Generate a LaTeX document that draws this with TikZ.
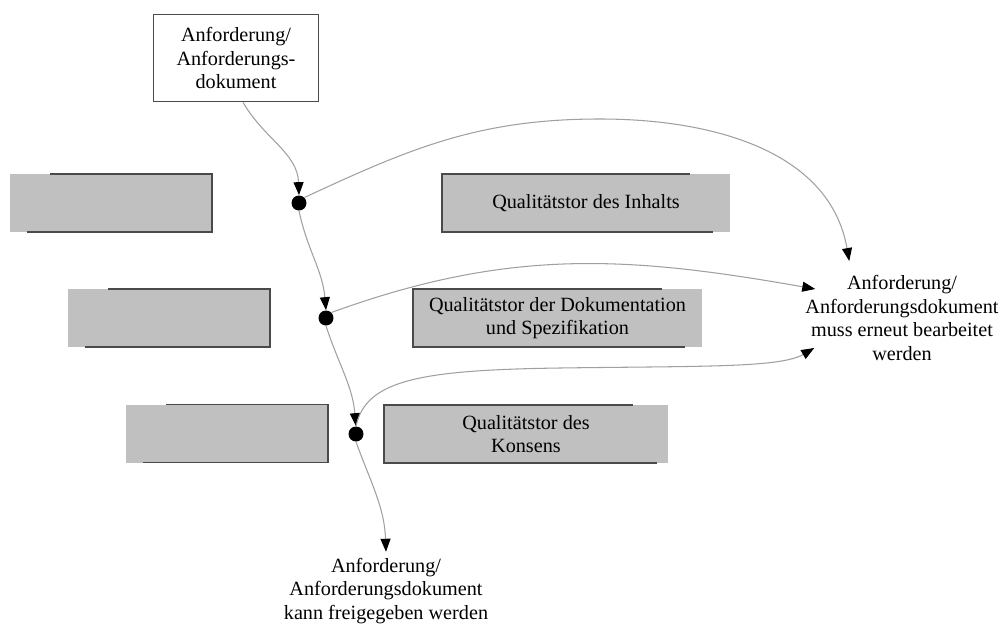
\documentclass[tikz,border=0pt]{standalone}
\usepackage{fontspec}
\setmainfont{Liberation Serif}
\usetikzlibrary{arrows.meta}
\definecolor{gatefill}{HTML}{C0C0C0}
\definecolor{gateline}{HTML}{4A4A4A}
\definecolor{flowline}{HTML}{A0A0A0}

\begin{document}
\begin{tikzpicture}[x=0.02cm, y=-0.02cm,
  every node/.style={font=\fontsize{11.5}{13.5}\selectfont, align=center},
  gate/.style={fill=gatefill, minimum height=1.16cm, inner sep=0pt, outer sep=0pt},
  rim/.style={draw=gateline, line width=1.1pt},
  dot/.style={circle, fill=black, minimum size=0.3cm, inner sep=0pt},
  flow/.style={draw=flowline, line width=0.6pt, -{Triangle[black, length=0.26cm, width=0.2cm]}}]
\useasboundingbox (0,0) rectangle (1002,626);

% Anforderung oben
\node[draw=gateline, line width=0.9pt, minimum width=3.3cm, minimum height=1.74cm, inner sep=0pt] (doc) at (236,58) {Anforderung/\\Anforderungs-\\dokument};

% Qualitaetstore
\node[gate, minimum width=4.04cm] (l1) at (111,203) {};
\node[gate, minimum width=5.76cm] (r1) at (586,203) {Qualitätstor des Inhalts};
\node[gate, minimum width=4.04cm] (l2) at (169,318) {};
\node[gate, minimum width=5.78cm] (r2) at (557.5,318) {Qualitätstor der Dokumentation\\und Spezifikation};
\node[gate, minimum width=4.04cm] (l3) at (227,433.5) {};
\node[gate, minimum width=5.68cm] (r3) at (526,434) {Qualitätstor des\\Konsens};

\draw[rim] ([xshift=0.8cm]l1.north west) -- (l1.north east) -- (l1.south east) -- ([xshift=0.34cm]l1.south west);
\draw[rim] ([xshift=0.8cm]l2.north west) -- (l2.north east) -- (l2.south east) -- ([xshift=0.34cm]l2.south west);
\draw[rim] ([xshift=0.8cm]l3.north west) -- (l3.north east) -- (l3.south east) -- ([xshift=0.34cm]l3.south west);
\draw[rim] ([xshift=-0.8cm]r1.north east) -- (r1.north west) -- (r1.south west) -- ([xshift=-0.34cm]r1.south east);
\draw[rim] ([xshift=-0.8cm]r2.north east) -- (r2.north west) -- (r2.south west) -- ([xshift=-0.34cm]r2.south east);
\draw[rim] ([xshift=-0.7cm]r3.north east) -- (r3.north west) -- (r3.south west) -- ([xshift=-0.22cm]r3.south east);

% Pruefpunkte
\node[dot] (d1) at (299,203) {};
\node[dot] (d2) at (326,318) {};
\node[dot] (d3) at (356,434) {};

% Ergebnisse
\node (neu) at (902,318) {Anforderung/\\Anforderungsdokument\\muss erneut bearbeitet\\werden};
\node (frei) at (386,591) {Anforderung/\\Anforderungsdokument\\kann freigegeben werden};

\draw[flow] ([xshift=0.14cm]doc.south) to[out=-60,in=92] (d1.north);
\draw[flow] (d1.south) to[out=-78,in=95] (d2.north);
\draw[flow] (d2.south) to[out=-72,in=95] (d3.north);
\draw[flow] (d3.south) to[out=-70,in=92] (frei.north);

\draw[flow] (d1.north east) to[out=25,in=180] (600,119) to[out=0,in=100] ([xshift=1cm,yshift=0.16cm]neu.north west);
\draw[flow] (d2.north east) to[out=20,in=170] ([xshift=0.32cm,yshift=0.58cm]neu.west);
\draw[flow] (d3.north) .. controls (366,380) and (420,370) .. (560,368) .. controls (700,366) and (780,368) .. ([xshift=0.3cm,yshift=-0.6cm]neu.west);
\end{tikzpicture}
\end{document}
